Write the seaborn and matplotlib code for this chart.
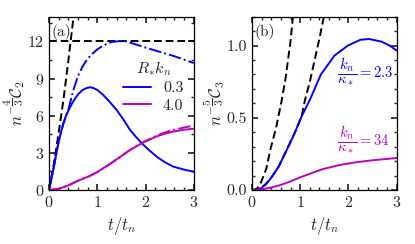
import numpy as np
import pandas as pd
import seaborn as sns
import matplotlib.pyplot as plt
from matplotlib.ticker import MultipleLocator

sns.set_theme(style="ticks")
plt.rcParams.update({
    "font.family": "serif",
    "font.serif": ["cmr10", "DejaVu Serif"],
    "mathtext.fontset": "cm",
    "axes.formatter.use_mathtext": True,
    "font.size": 11.5,
    "axes.linewidth": 0.9,
    "axes.edgecolor": "black",
    "xtick.direction": "in",
    "ytick.direction": "in",
    "xtick.top": True,
    "ytick.right": True,
    "xtick.minor.visible": True,
    "ytick.minor.visible": True,
    "xtick.major.size": 4,
    "ytick.major.size": 4,
    "xtick.minor.size": 2.2,
    "ytick.minor.size": 2.2,
    "xtick.labelsize": 11.5,
    "ytick.labelsize": 11.5,
})

BLUE = "#0000ff"
MAGENTA = "#bf00bf"

# ---- panel (a): C2 ----
a_dash_t = [0, 0.1, 0.2, 0.3, 0.4, 0.51]
a_dash_y = [0, 2.1, 4.6, 7.3, 10.4, 14.0]
a_plateau = 12.0

a_blue_t = [0, 0.05, 0.1, 0.15, 0.2, 0.25, 0.3, 0.36, 0.42, 0.48, 0.55, 0.62, 0.7,
            0.78, 0.85, 0.92, 1.0, 1.12, 1.25, 1.4, 1.55, 1.68, 1.8, 1.92, 2.08,
            2.23, 2.4, 2.57, 2.8, 3.0]
a_blue_y = [0, 0.9, 1.85, 2.9, 3.9, 4.7, 5.4, 6.07, 6.55, 7.0, 7.45, 7.8, 8.08,
            8.24, 8.29, 8.24, 8.08, 7.69, 7.15, 6.47, 5.65, 4.85, 4.3, 3.78, 3.2,
            2.7, 2.25, 1.9, 1.65, 1.48]

a_blue_dd_t = [0, 0.1, 0.2, 0.3, 0.4, 0.5, 0.6, 0.7, 0.8, 0.9, 1.0, 1.1, 1.2, 1.3,
               1.45, 1.6, 1.8, 2.0, 2.3, 2.6, 3.0]
a_blue_dd_y = [0, 1.85, 3.9, 5.4, 6.45, 8.0, 9.2, 10.0, 10.6, 11.0, 11.35, 11.6,
               11.8, 11.95, 12.02, 12.0, 11.75, 11.5, 11.15, 10.8, 10.25]

a_mag_t = [0, 0.2, 0.4, 0.6, 0.85, 1.0, 1.26, 1.5, 1.68, 1.92, 2.1, 2.23, 2.4,
           2.57, 2.8, 3.0]
a_mag_y = [0, 0.1, 0.38, 0.75, 1.15, 1.45, 2.1, 2.75, 3.24, 3.78, 4.1, 4.33,
           4.55, 4.72, 4.87, 4.95]

a_mag_dd_t = [0, 0.2, 0.4, 0.6, 0.85, 1.0, 1.26, 1.5, 1.68, 1.92, 2.1, 2.23,
              2.4, 2.57, 2.8, 3.0]
a_mag_dd_y = [0, 0.1, 0.38, 0.75, 1.15, 1.45, 2.1, 2.75, 3.24, 3.8, 4.15, 4.4,
              4.65, 4.85, 5.05, 5.2]

# ---- panel (b): C3 ----
b_dash1_t = [0, 0.1, 0.18, 0.3, 0.38, 0.5, 0.62, 0.7, 0.8, 0.85]
b_dash1_y = [0, 0.008, 0.046, 0.15, 0.277, 0.43, 0.624, 0.78, 1.03, 1.2]

b_dash2_t = [0, 0.1, 0.2, 0.28, 0.4, 0.55, 0.72, 0.88, 1.03, 1.1, 1.2, 1.3, 1.4, 1.49]
b_dash2_y = [0, 0.004, 0.018, 0.04, 0.085, 0.16, 0.277, 0.39, 0.51, 0.624, 0.75,
             0.9, 1.05, 1.2]

b_blue_t = [0, 0.1, 0.2, 0.31, 0.42, 0.55, 0.72, 0.88, 1.03, 1.2, 1.43, 1.71,
            1.99, 2.25, 2.43, 2.68, 2.85, 3.0]
b_blue_y = [0, 0.002, 0.015, 0.046, 0.095, 0.16, 0.277, 0.39, 0.51, 0.624, 0.8,
            0.93, 1.0, 1.04, 1.045, 1.027, 1.0, 0.965]

b_mag_t = [0, 0.2, 0.42, 0.6, 0.785, 1.0, 1.13, 1.3, 1.47, 1.81, 2.15, 2.49, 2.75, 3.0]
b_mag_y = [0, 0.004, 0.019, 0.036, 0.058, 0.088, 0.104, 0.125, 0.145, 0.173,
           0.192, 0.206, 0.214, 0.222]

fig = plt.figure(figsize=(4.15, 2.44), dpi=100)
ax_a = fig.add_axes([0.118, 0.221, 0.349, 0.711])
ax_b = fig.add_axes([0.607, 0.221, 0.349, 0.711])

DASH = (0, (4, 2))

# panel (a)
sns.lineplot(x=a_dash_t, y=a_dash_y, ax=ax_a, color="black", lw=1.4, ls=DASH, sort=False)
ax_a.axhline(a_plateau, color="black", lw=1.4, ls=DASH)
sns.lineplot(x=a_blue_dd_t, y=a_blue_dd_y, ax=ax_a, color=BLUE, lw=1.4, ls="-.", sort=False)
sns.lineplot(x=a_mag_dd_t, y=a_mag_dd_y, ax=ax_a, color=MAGENTA, lw=1.4, ls="-.", sort=False)
sns.lineplot(x=a_blue_t, y=a_blue_y, ax=ax_a, color=BLUE, lw=1.4, sort=False, label="0.3")
sns.lineplot(x=a_mag_t, y=a_mag_y, ax=ax_a, color=MAGENTA, lw=1.4, sort=False, label="4.0")

ax_a.set_xlim(0, 3)
ax_a.set_ylim(0, 14)
ax_a.xaxis.set_major_locator(MultipleLocator(1))
ax_a.xaxis.set_minor_locator(MultipleLocator(0.2))
ax_a.yaxis.set_major_locator(MultipleLocator(3))
ax_a.yaxis.set_minor_locator(MultipleLocator(1.5))
ax_a.set_xlabel(r"$t/t_n$", fontsize=12, labelpad=4)
ax_a.set_ylabel(r"$n^{-\dfrac{4}{3}}\mathcal{C}_2$", fontsize=12, labelpad=0)
ax_a.text(0.02, 0.96, "(a)", transform=ax_a.transAxes, ha="left", va="top", fontsize=11)
ax_a.legend(title=r"$R_{*}k_n$", loc="center", bbox_to_anchor=(0.72, 0.6),
            frameon=False, fontsize=11.5, title_fontsize=11.5, handlelength=1.75,
            labelspacing=0.2, handletextpad=0.75, borderpad=0.1)

# panel (b)
sns.lineplot(x=b_dash1_t, y=b_dash1_y, ax=ax_b, color="black", lw=1.4, ls=DASH, sort=False)
sns.lineplot(x=b_dash2_t, y=b_dash2_y, ax=ax_b, color="black", lw=1.4, ls=DASH, sort=False)
sns.lineplot(x=b_blue_t, y=b_blue_y, ax=ax_b, color=BLUE, lw=1.4, sort=False)
sns.lineplot(x=b_mag_t, y=b_mag_y, ax=ax_b, color=MAGENTA, lw=1.4, sort=False)

ax_b.set_xlim(0, 3)
ax_b.set_ylim(0, 1.2)
ax_b.xaxis.set_major_locator(MultipleLocator(1))
ax_b.xaxis.set_minor_locator(MultipleLocator(0.2))
ax_b.yaxis.set_major_locator(MultipleLocator(0.5))
ax_b.yaxis.set_minor_locator(MultipleLocator(0.1))
ax_b.yaxis.set_major_formatter(plt.FormatStrFormatter("%.1f"))
ax_b.set_xlabel(r"$t/t_n$", fontsize=12, labelpad=4)
ax_b.set_ylabel(r"$n^{-\dfrac{5}{3}}\mathcal{C}_3$", fontsize=12, labelpad=0)
ax_b.text(0.02, 0.96, "(b)", transform=ax_b.transAxes, ha="left", va="top", fontsize=11)
ax_b.text(1.76, 0.82, r"$\dfrac{k_n}{\kappa_*}=2.3$", color=BLUE, ha="left", va="center", fontsize=10.5)
ax_b.text(1.76, 0.345, r"$\dfrac{k_n}{\kappa_*}=34$", color=MAGENTA, ha="left", va="center", fontsize=10.5)

fig.savefig("out.png", dpi=100)
